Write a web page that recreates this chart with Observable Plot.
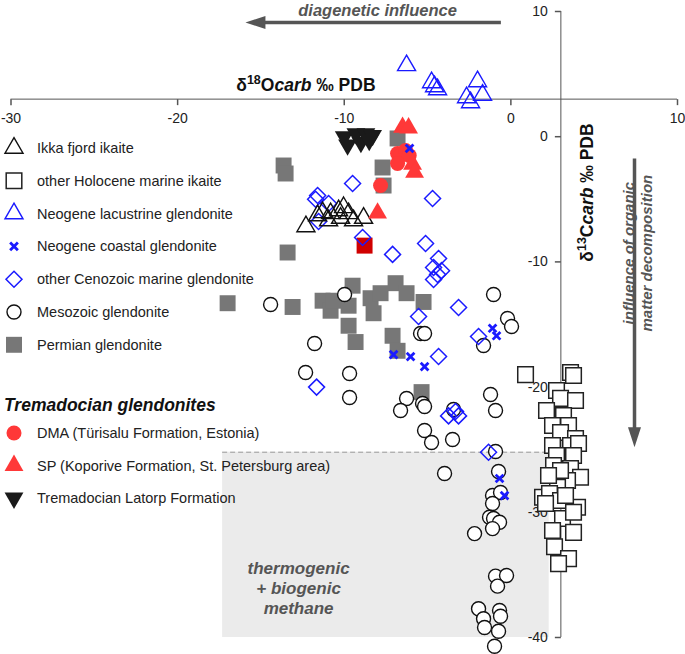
<!DOCTYPE html>
<html><head><meta charset="utf-8">
<script src="https://cdn.jsdelivr.net/npm/d3@7"></script>
<script src="https://cdn.jsdelivr.net/npm/@observablehq/plot@0.6"></script>
<style>
body{margin:0;background:#fff;font-family:"Liberation Sans",Arial,sans-serif;}
#wrap{position:relative;width:685px;height:654px;}
</style></head><body><div id="wrap"></div>
<script>
// ---------- data: [δ18O, δ13C] ----------
const xTicks = [-30, -20, -10, 0, 10];
const yTicks = [10, 0, -10, -20, -30, -40];
const ikkaFjord = [[-12.3,-7.17],[-11.6,-6.3],[-11.3,-6.05],[-10.82,-6.13],[-10.34,-5.9],[-10.04,-5.65],[-9.74,-6.13],[-9.44,-6.7],[-8.84,-6.5],[-10.94,-6.7],[-10.22,-6.5]];
const holocene = [[0.88,-19.0],[3.58,-18.83],[3.76,-19.07],[2.74,-20.27],[2.98,-20.9],[3.88,-21.07],[2.14,-21.87],[3.16,-22.27],[2.5,-23.07],[3.46,-23.07],[2.98,-23.63],[3.88,-24.1],[2.5,-24.66],[3.58,-24.66],[4.06,-24.5],[2.74,-25.46],[3.76,-25.46],[2.56,-26.26],[3.58,-26.5],[4.18,-27.2],[3.4,-27.46],[2.8,-28.0],[1.9,-28.8],[2.32,-28.5],[2.98,-29.06],[4.0,-29.6],[2.08,-29.3],[3.28,-28.66],[3.1,-30.5],[2.5,-31.45],[3.76,-31.6],[2.62,-32.75],[3.46,-33.7],[2.86,-34.1],[3.76,-30.0],[2.98,-26.66],[2.26,-27.06]];
const neogeneLacustrine = [[-6.26,5.69],[-4.76,4.33],[-4.58,4.01],[-4.4,3.77],[-2.66,3.13],[-2.42,2.73],[-2.0,4.41],[-1.7,3.33]];
const neogeneCoastal = [[-6.08,-0.94],[-7.04,-17.4],[-6.02,-17.56],[-5.18,-18.36],[-1.1,-15.3],[-0.86,-15.9],[-0.68,-27.3],[-0.38,-28.66]];
const cenozoicMarine = [[-9.5,-3.74],[-4.7,-4.94],[-11.6,-4.7],[-11.72,-5.0],[-10.94,-5.34],[-11.54,-6.77],[-8.9,-8.05],[-7.1,-9.4],[-5.12,-8.53],[-4.34,-9.73],[-4.64,-10.45],[-4.16,-10.7],[-4.4,-11.0],[-4.64,-11.4],[-3.14,-13.64],[-5.54,-14.36],[-1.94,-15.96],[-4.34,-17.56],[-11.66,-20.0],[-3.74,-22.3],[-3.32,-21.95],[-3.14,-22.3],[-1.34,-25.2]];
const mesozoic = [[-14.42,-13.4],[-9.98,-12.6],[-1.04,-12.6],[-0.2,-14.52],[0.04,-15.16],[-5.42,-15.72],[-5.18,-15.72],[-1.64,-16.68],[-11.78,-16.52],[-12.32,-18.83],[-9.68,-18.91],[-9.68,-20.83],[-6.26,-20.91],[-6.62,-21.87],[-5.3,-21.31],[-5.18,-21.55],[-3.44,-21.79],[-1.22,-20.59],[-0.92,-21.87],[-5.18,-23.47],[-4.76,-24.43],[-3.5,-24.19],[-0.92,-25.14],[-3.98,-26.9],[-0.74,-26.74],[-1.1,-28.66],[-0.62,-28.42],[-1.1,-29.3],[-1.28,-30.4],[-1.04,-30.5],[-0.68,-30.8],[-2.18,-31.7],[-1.1,-31.3],[-0.92,-35.1],[-0.26,-35.05],[-0.8,-35.9],[-1.94,-37.7],[-1.64,-38.5],[-1.58,-39.2],[-0.68,-37.84],[-0.62,-38.3],[-0.74,-39.5],[-0.98,-40.7]];
const permian = [[-17.0,-13.3],[-13.1,-13.6],[-11.3,-13.1],[-10.82,-13.9],[-10.64,-13.1],[-9.74,-13.5],[-9.5,-11.9],[-8.42,-12.9],[-7.82,-12.5],[-8.24,-14.1],[-6.92,-11.7],[-6.26,-12.5],[-5.24,-13.2],[-9.74,-15.1],[-9.32,-16.4],[-7.1,-15.9],[-6.8,-17.1],[-5.36,-20.4],[-13.64,-2.3],[-13.52,-2.94],[-13.4,-9.25],[-7.7,-2.46],[-7.64,-3.9],[-6.8,-0.14]];
const highlighted = [[-8.78,-8.7]];
const dma = [[-6.8,-1.34],[-6.62,-1.5],[-6.32,-1.1],[-6.1,-1.5],[-6.8,-2.14],[-7.82,-3.9]];
const sp = [[-6.5,0.75],[-6.14,0.7],[-5.9,-2.2],[-5.78,-2.85],[-8.0,-6.1]];
const latorp = [[-10.0,0.0],[-9.8,-0.65],[-9.3,0.25],[-9.0,-0.45],[-8.7,0.25],[-8.3,0.1],[-8.5,-0.3]];
const axisCross = {x: 3, y: 3};
const methaneBox = {x1: -17.3, x2: 2.3, y1: -25.2, y2: -40};

// ---------- styles ----------
const BLUE = "#1a1aff", RED = "#ff3838";
const st = {
  ikka:   {name:"Ikka fjord ikaite", data: ikkaFjord, symbol:"triangle", r:6.7, fill:"none", stroke:"#111", sw:1.4},
  holo:   {name:"other Holocene marine ikaite", data: holocene, symbol:"square", r:8.8, fill:"white", stroke:"#222", sw:1.5},
  lacu:   {name:"Neogene lacustrine glendonite", data: neogeneLacustrine, symbol:"triangle", r:6.7, fill:"none", stroke:BLUE, sw:1.4},
  coast:  {name:"Neogene coastal glendonite", data: neogeneCoastal, symbol:"times", r:3.6, fill:"none", stroke:BLUE, sw:2.8},
  ceno:   {name:"other Cenozoic marine glendonite", data: cenozoicMarine, symbol:"diamond2", r:7.2, fill:"none", stroke:BLUE, sw:1.5},
  meso:   {name:"Mesozoic glendonite", data: mesozoic, symbol:"circle", r:7, fill:"white", stroke:"#111", sw:1.4},
  perm:   {name:"Permian glendonite", data: permian, symbol:"square", r:9, fill:"#777", stroke:"none", sw:0},
  hil:    {name:"", data: highlighted, symbol:"square", r:9, fill:"#d00000", stroke:"none", sw:0},
  dma:    {name:"DMA (Türisalu Formation, Estonia)", data: dma, symbol:"circle", r:7.5, fill:RED, stroke:"none", sw:0},
  sp:     {name:"SP (Koporive Formation, St. Petersburg area)", data: sp, symbol:"triangle", r:7, fill:RED, stroke:"none", sw:0},
  latorp: {name:"Tremadocian Latorp Formation", data: latorp, symbol:"triangle", r:7, fill:"#1a1a1a", stroke:"none", sw:0, rotate:180}
};
const drawOrder = ["perm","hil","meso","ceno","ikka","holo","lacu","dma","sp","coast","latorp"];
const legendMain = ["ikka","holo","lacu","coast","ceno","meso","perm"];
const legendTrem = ["dma","sp","latorp"];

// custom symbols (ticks & arrowheads)
const tickDown = {draw(c){c.moveTo(0,0); c.lineTo(0,6);}};
const tickLeft = {draw(c){c.moveTo(0,0); c.lineTo(-6,0);}};
const headLeft = {draw(c){c.moveTo(0,0); c.lineTo(20,-6.5); c.lineTo(20,6.5); c.closePath();}};
const headDown = {draw(c){c.moveTo(0,0); c.lineTo(-6.5,-20); c.lineTo(6.5,-20); c.closePath();}};

const diagArrow = {x1: -0.6, x2: -15.93, y: 9.12};
const orgArrow = {x: 7.42, y1: -1.74, y2: -24.8};
const notesTop = [{text:"diagenetic influence", x:-8.0, y:10.1}];
const notesSide = [{text:"influence of organic\nmatter decomposition", x:7.58, y:-9.3}];
const notesBox = [{text:"thermogenic\n+ biogenic\nmethane", x:-12.74, y:-36.0}];
const titles = [{text:"δ18Ocarb ‰ PDB", x:-12.3, y:4.1, rotate:0}, {text:"δ13Ccarb ‰ PDB", x:4.6, y:-4.46, rotate:-90}];

const seriesMarks = drawOrder.map(k => {
  const s = st[k];
  return Plot.dot(s.data, {x: d => d[0], y: d => d[1], symbol: s.symbol, r: s.r,
    fill: s.fill, stroke: s.stroke, strokeWidth: s.sw, rotate: s.rotate || 0});
});

const chart = Plot.plot({
  width: 685, height: 654,
  marginLeft: 10.5, marginRight: 8, marginTop: 11, marginBottom: 17,
  x: {domain: [-30, 10], axis: null},
  y: {domain: [-40, 10], axis: null},
  style: {fontFamily: "Liberation Sans, Arial, sans-serif", background: "white", overflow: "visible"},
  marks: [
    Plot.rect([methaneBox], {x1:"x1", x2:"x2", y1:"y1", y2:"y2", fill:"#ebebeb"}),
    Plot.ruleY([methaneBox], {y:"y1", x1:"x1", x2:"x2", stroke:"#999", strokeDasharray:"5,3"}),
    Plot.text(notesBox, {x:"x", y:"y", text:"text", fontSize:17, fontWeight:"bold", fontStyle:"italic", fill:"#555", lineHeight:1.18}),
    Plot.ruleY([axisCross], {y:"y", x1: xTicks[0], x2: xTicks[xTicks.length-1], stroke:"#555"}),
    Plot.ruleX([axisCross], {x:"x", y1: yTicks[yTicks.length-1], y2: yTicks[0], stroke:"#555"}),
    Plot.dot(xTicks, {x: d => d, y: axisCross.y, symbol: tickDown, r: 2, fill: "none", stroke: "#555"}),
    Plot.dot(yTicks, {x: axisCross.x, y: d => d, symbol: tickLeft, r: 2, fill: "none", stroke: "#555"}),
    Plot.text(xTicks, {x: d => d, y: axisCross.y, text: d => String(d), dy: 19, fontSize: 14, fill: "#222"}),
    Plot.text(yTicks, {x: axisCross.x, y: d => d, text: d => String(d), dx: -13, textAnchor: "end", fontSize: 14, fill: "#222"}),
    Plot.text(titles, {x:"x", y:"y", text:"text", rotate:"rotate", fontSize:17.5, fontWeight:"bold", fill:"#111"}),
    Plot.link([diagArrow], {x1:"x1", x2: d => d.x2 + 0.8, y1:"y", y2:"y", stroke:"#555", strokeWidth:3.3}),
    Plot.dot([diagArrow], {x:"x2", y:"y", symbol: headLeft, r: 2, fill:"#555", stroke:"none"}),
    Plot.text(notesTop, {x:"x", y:"y", text:"text", fontSize:16.5, fontWeight:"bold", fontStyle:"italic", fill:"#555"}),
    Plot.link([orgArrow], {x1:"x", x2:"x", y1:"y1", y2: d => d.y2 + 1.2, stroke:"#555", strokeWidth:3.5}),
    Plot.dot([orgArrow], {x:"x", y:"y2", symbol: headDown, r: 2, fill:"#555", stroke:"none"}),
    Plot.text(notesSide, {x:"x", y:"y", text:"text", rotate:-90, fontSize:15, fontWeight:"bold", fontStyle:"italic", fill:"#555", lineHeight:1.22}),
    ...seriesMarks
  ]
});

// rich text for axis titles (superscript isotopes, italic "carb")
function enrich(svg, plain, parts) {
  d3.select(svg).selectAll("text").filter(function(){ return this.textContent === plain; }).each(function(){
    const t = d3.select(this); t.text(null);
    parts.forEach(p => {
      const ts = t.append("tspan").text(p.t);
      if (p.sup) ts.attr("font-size", 12.5).attr("dy", -7);
      if (p.down) ts.attr("dy", 7);
      if (p.it) ts.attr("font-style", "italic");
    });
  });
}
enrich(chart, "δ18Ocarb ‰ PDB", [{t:"δ"},{t:"18",sup:true},{t:"O",down:true},{t:"carb",it:true},{t:" ‰ PDB"}]);
enrich(chart, "δ13Ccarb ‰ PDB", [{t:"δ"},{t:"13",sup:true},{t:"C",down:true},{t:"carb",it:true},{t:" ‰ PDB"}]);

const wrap = document.getElementById("wrap");
wrap.appendChild(chart);

// legend overlay
const symType = {triangle: d3.symbolTriangle, square: d3.symbolSquare, circle: d3.symbolCircle, diamond2: d3.symbolDiamond2, times: d3.symbolTimes};
const lg = d3.create("svg").attr("width", 685).attr("height", 654)
  .style("position","absolute").style("left","0").style("top","0").style("pointer-events","none")
  .style("font-family","Liberation Sans, Arial, sans-serif");
function row(k, y) {
  const s = st[k];
  lg.append("path").attr("d", d3.symbol(symType[s.symbol], s.r * s.r * Math.PI)())
    .attr("transform", `translate(14,${y})` + (s.rotate ? ` rotate(${s.rotate})` : ""))
    .attr("fill", s.fill).attr("stroke", s.stroke).attr("stroke-width", s.sw);
  lg.append("text").attr("x", 37).attr("y", y).attr("dy", "0.35em").attr("font-size", 14.5).attr("fill", "#222").text(s.name);
}
legendMain.forEach((k, i) => row(k, 148 + i * 32.8));
lg.append("text").attr("x", 4).attr("y", 405).attr("dy", "0.35em").attr("font-size", 17.5)
  .attr("font-weight", "bold").attr("font-style", "italic").attr("fill", "#111").text("Tremadocian glendonites");
legendTrem.forEach((k, i) => row(k, 433 + i * 32.5));
wrap.appendChild(lg.node());
</script></body></html>
